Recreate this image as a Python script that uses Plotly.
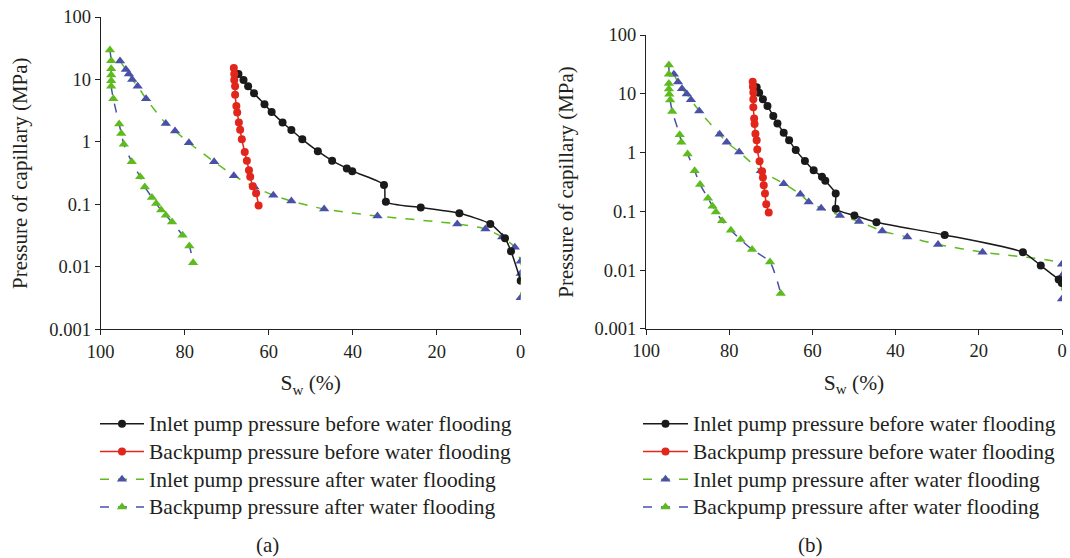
import plotly.graph_objects as go

# ---------------- data (a) ----------------
a_inlet_before_sw = [67.2, 66.0, 64.9, 63.5, 61.0, 59.3, 56.7, 54.6, 52.0, 48.3, 44.9, 41.4, 40.1,
                     32.55, 32.1, 23.8, 14.6, 7.24, 3.74, 2.31, 0.0]
a_inlet_before_p = [12.2, 9.8, 7.8, 6.0, 4.0, 3.0, 2.05, 1.55, 1.1, 0.71, 0.50, 0.376, 0.34,
                    0.205, 0.11, 0.089, 0.072, 0.0487, 0.0287, 0.0178, 0.006]

a_back_before_sw = [68.3, 68.2, 68.2, 68.0, 68.0, 67.7, 67.5, 67.1, 66.8, 66.4, 65.7, 65.2, 64.7,
                    64.4, 63.8, 63.0, 62.4]
a_back_before_p = [15.2, 12.2, 9.8, 7.8, 5.7, 3.75, 2.97, 2.05, 1.56, 1.1, 0.687, 0.50, 0.353,
                   0.276, 0.196, 0.151, 0.096]

a_inlet_after_sw = [95.4, 94.0, 93.3, 92.5, 91.2, 89.2, 84.5, 82.3, 79.0, 73.0, 68.3, 63.4, 58.9,
                    54.6, 46.8, 34.1, 15.1, 8.4, 4.4, 1.4, 0.0, 0.0, 0.0]
a_inlet_after_p = [19.7, 14.5, 12.2, 10.0, 7.8, 4.9, 1.98, 1.5, 0.97, 0.483, 0.288, 0.19, 0.14,
                   0.113, 0.084, 0.065, 0.0487, 0.0405, 0.030, 0.0206, 0.0123, 0.0078, 0.0032]

a_back_after_sw = [97.8, 97.5, 97.5, 97.5, 97.5, 97.5, 97.0, 95.6, 95.1, 94.5, 92.6, 90.6, 89.5,
                   87.8, 86.8, 85.6, 84.5, 83.0, 80.5, 78.9, 78.0]
a_back_after_p = [29.6, 20.0, 14.8, 11.8, 9.5, 7.8, 4.9, 1.93, 1.37, 0.92, 0.48, 0.276, 0.19,
                  0.129, 0.103, 0.081, 0.067, 0.052, 0.032, 0.0216, 0.0116]

# ---------------- data (b) ----------------
b_inlet_before_sw = [73.4, 72.8, 71.9, 70.8, 69.4, 68.4, 66.9, 65.6, 64.0, 61.8, 59.7, 57.7, 56.9,
                     54.4, 54.4, 49.9, 44.6, 28.2, 9.4, 5.1, 0.8, 0.05]
b_inlet_before_p = [12.9, 10.4, 8.1, 6.2, 4.17, 3.13, 2.17, 1.61, 1.1, 0.72, 0.50, 0.386, 0.33,
                    0.2, 0.11, 0.085, 0.065, 0.0396, 0.0201, 0.0119, 0.0069, 0.006]

b_back_before_sw = [74.35, 74.3, 74.2, 74.2, 74.2, 74.0, 73.9, 73.7, 73.4, 73.25, 72.7, 72.1, 71.9,
                    71.7, 71.4, 71.1, 70.5]
b_back_before_p = [16.0, 13.2, 10.5, 8.1, 5.9, 3.78, 3.05, 2.08, 1.61, 1.13, 0.71, 0.48, 0.376,
                   0.276, 0.2, 0.132, 0.095]

b_inlet_after_sw = [93.3, 92.3, 91.35, 90.2, 89.2, 87.2, 82.3, 80.6, 77.6, 72.4, 66.9, 62.9, 60.9,
                    57.9, 53.4, 48.8, 43.2, 37.2, 29.8, 19.1, 0.0, 0.0, 0.0]
b_inlet_after_p = [21.4, 15.8, 12.2, 9.9, 7.9, 5.1, 2.04, 1.5, 1.02, 0.488, 0.295, 0.195, 0.144,
                   0.113, 0.085, 0.067, 0.046, 0.0365, 0.0272, 0.0201, 0.0126, 0.008, 0.0032]

b_back_after_sw = [94.5, 94.5, 94.5, 94.5, 94.4, 94.2, 93.7, 91.9, 91.5, 90.0, 88.3, 87.0, 85.1,
                   84.0, 83.2, 81.7, 79.6, 77.3, 74.5, 70.2, 67.6]
b_back_after_p = [30.8, 21.4, 15.0, 12.0, 9.8, 7.8, 5.0, 2.0, 1.5, 0.94, 0.488, 0.286, 0.167,
                  0.122, 0.097, 0.069, 0.0476, 0.033, 0.0224, 0.0137, 0.004]

names = ["Inlet pump pressure before water flooding",
         "Backpump pressure before water flooding",
         "Inlet pump pressure after water flooding",
         "Backpump pressure after water flooding"]
x_ticks = [100, 80, 60, 40, 20, 0]
y_ticks = [0.001, 0.01, 0.1, 1, 10, 100]
y_tick_text = ["0.001", "0.01", "0.1", "1", "10", "100"]
panel_labels = ["(a)", "(b)"]

BLACK = "#1a1a1a"
RED = "#e1261c"
GREEN = "#5dbb1e"
BLUE = "#4a50a8"
FONT = "Liberation Serif"
TXT = "#231f20"

styles = [
    dict(line=dict(color=BLACK, width=1.5, shape="spline", smoothing=0.6),
         marker=dict(symbol="circle", size=8, color=BLACK)),
    dict(line=dict(color=RED, width=1.5, shape="spline", smoothing=0.6),
         marker=dict(symbol="circle", size=8, color=RED)),
    dict(line=dict(color=GREEN, width=1.5, dash="dash", shape="spline", smoothing=0.6),
         marker=dict(symbol="triangle-up", size=9, color=BLUE)),
    dict(line=dict(color=BLUE, width=1.5, dash="dash", shape="spline", smoothing=0.6),
         marker=dict(symbol="triangle-up", size=9, color=GREEN)),
]

fig = go.Figure()

panels = [
    ("x", "y", "legend", [(a_inlet_before_sw, a_inlet_before_p), (a_back_before_sw, a_back_before_p),
                          (a_inlet_after_sw, a_inlet_after_p), (a_back_after_sw, a_back_after_p)]),
    ("x2", "y2", "legend2", [(b_inlet_before_sw, b_inlet_before_p), (b_back_before_sw, b_back_before_p),
                             (b_inlet_after_sw, b_inlet_after_p), (b_back_after_sw, b_back_after_p)]),
]

for xa, ya, lg, series in panels:
    for i in [2, 3, 0, 1]:
        sw, p = series[i]
        fig.add_trace(go.Scatter(x=sw, y=p, mode="lines+markers",
                                 name=f'<span style="font-size:21.5px">{names[i]}</span>',
                                 xaxis=xa, yaxis=ya, legend=lg, legendrank=i + 1,
                                 **styles[i]))

W, H = 1070, 558
axis_common = dict(showline=True, linecolor="#222", linewidth=1.2, ticks="outside", ticklen=5,
                   tickcolor="#222", showgrid=False, zeroline=False, automargin=False,
                   tickfont=dict(family=FONT, size=18.5, color=TXT))
xcommon = dict(axis_common, range=[100, 0], tickvals=x_ticks, ticktext=[str(v) for v in x_ticks],
               title=dict(text="S<sub>w</sub> (%)", font=dict(family=FONT, size=21.5, color=TXT), standoff=14))
ycommon = dict(axis_common, type="log", range=[-3, 2], tickvals=y_ticks, ticktext=y_tick_text,
               title=dict(text="Pressure of capillary (MPa)", font=dict(family=FONT, size=21, color=TXT),
                          standoff=15))

leg_common = dict(xanchor="left", yanchor="top", font=dict(family=FONT, size=19, color=TXT),
                  bgcolor="rgba(0,0,0,0)", y=1 - 405 / H)

fig.update_layout(
    width=W, height=H, margin=dict(l=0, r=0, t=0, b=0, autoexpand=False),
    paper_bgcolor="white", plot_bgcolor="white",
    xaxis=dict(xcommon, domain=[100.7 / W, 520.7 / W], anchor="y"),
    yaxis=dict(ycommon, domain=[1 - 329.3 / H, 1 - 17 / H], anchor="x"),
    xaxis2=dict(xcommon, domain=[646 / W, 1062 / W], anchor="y2"),
    yaxis2=dict(ycommon, domain=[1 - 328.8 / H, 1 - 35 / H], anchor="x2"),
    legend=dict(leg_common, x=95 / W, itemwidth=44),
    legend2=dict(leg_common, x=638 / W, itemwidth=45),
    showlegend=True,
)

for lbl, xc in zip(panel_labels, [267, 810]):
    fig.add_annotation(text=lbl, x=xc / W, y=1 - 545 / H, xref="paper", yref="paper",
                       xanchor="center", yanchor="middle", showarrow=False,
                       font=dict(family=FONT, size=21, color=TXT))

fig.write_html("out.html")
